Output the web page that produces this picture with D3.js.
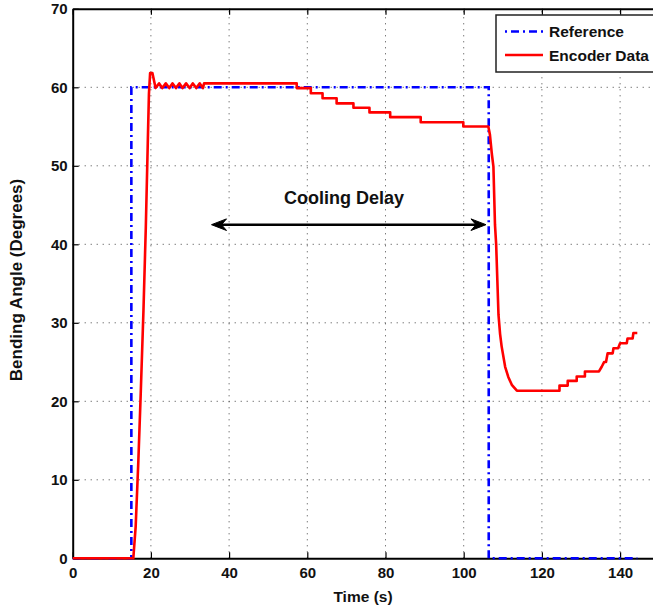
<!DOCTYPE html>
<html>
<head>
<meta charset="utf-8">
<script src="https://cdn.jsdelivr.net/npm/d3@7"></script>
<style>
html,body{margin:0;padding:0;background:#fff;overflow:hidden;}
svg{display:block;font-family:"Liberation Sans",Arial,Helvetica,sans-serif;font-weight:bold;}
</style>
</head>
<body>
<svg id="chart" width="653" height="611"></svg>
<script>
// ---- data ----
const xTicks = [0, 20, 40, 60, 80, 100, 120, 140];
const yTicks = [0, 10, 20, 30, 40, 50, 60, 70];

const refTime = [0, 15.0, 15.0, 106.4, 106.4, 144.4];
const refAngle = [0, 0, 60, 60, 0, 0];

const encTime = [
  0, 15.5, 16.1, 16.8, 17.4, 18.1, 18.7, 19.2, 19.5, 19.8, 20.4, 21.2,
  22.1, 22.9, 23.8, 24.7, 25.5, 26.4, 27.3, 28.1, 29.0, 29.9, 30.7, 31.6, 32.5, 33.3, 33.6,
  57.3, 57.3, 60.9, 60.9, 63.9, 63.9, 67.5, 67.5, 71.8, 71.8, 75.9, 75.9, 81.2, 81.2,
  89.0, 89.0, 99.9, 99.9, 106.3,
  106.7, 107.2, 107.6, 108.0, 108.3, 108.9, 109.3, 109.7, 110.6, 111.4, 112.3, 113.6,
  124.5, 124.5, 126.6, 126.6, 128.9, 128.9, 131.0, 131.0, 134.6,
  135.3, 135.9, 136.4, 136.8, 138.1, 138.3, 139.5, 140.0, 141.7, 141.9, 143.2, 143.4, 144.4
];
const encAngle = [
  0, 0, 4.0, 12.5, 21.0, 31.6, 42.2, 52.9, 59.2, 61.8, 61.8, 59.9,
  60.5, 59.9, 60.5, 59.9, 60.5, 59.9, 60.5, 59.9, 60.5, 59.9, 60.5, 59.9, 60.5, 59.9, 60.5,
  60.5, 59.9, 59.9, 59.25, 59.25, 58.6, 58.6, 57.95, 57.95, 57.4, 57.4, 56.8, 56.8, 56.2,
  56.2, 55.55, 55.55, 55.0, 55.0,
  54.0, 51.5, 49.9, 42.5, 40.0, 31.0, 28.6, 27.0, 24.4, 23.1, 22.1, 21.35,
  21.35, 22.0, 22.0, 22.6, 22.6, 23.15, 23.15, 23.8, 23.8,
  24.4, 25.0, 25.0, 26.1, 26.1, 26.75, 26.75, 27.4, 27.4, 28.0, 28.0, 28.7, 28.7
];

const seriesNames = ["Reference", "Encoder Data"];
const annotationText = "Cooling Delay";
const arrowFrom = [35.5, 42.5];
const arrowTo = [105.7, 42.5];

// ---- layout ----
const svg = d3.select("#chart");
const pLeft = 72.7, pRight = 659.2, pTop = 8.8, pBottom = 558.3;
const x = d3.scaleLinear().domain([0, 150]).range([pLeft, pRight]);
const y = d3.scaleLinear().domain([0, 70]).range([pBottom, pTop]);

// grid
const grid = svg.append("g").attr("stroke", "#444").attr("stroke-width", 1).attr("stroke-dasharray", "1,5");
xTicks.filter(t => t > 0).forEach(t => {
  grid.append("line").attr("x1", x(t)).attr("x2", x(t)).attr("y1", pBottom).attr("y2", pTop);
});
yTicks.filter(t => t > 0 && t < 70).forEach(t => {
  grid.append("line").attr("x1", pLeft).attr("x2", pRight).attr("y1", y(t)).attr("y2", y(t));
});

// axes
const xAxis = d3.axisBottom(x).tickValues(xTicks).tickSize(-6).tickPadding(14).tickSizeOuter(0);
const gx = svg.append("g").attr("transform", `translate(0,${pBottom})`).call(xAxis);
const xTopAxis = d3.axisTop(x).tickValues(xTicks).tickSize(-6).tickFormat("").tickSizeOuter(0);
const gxt = svg.append("g").attr("transform", `translate(0,${pTop})`).call(xTopAxis);
const yAxis = d3.axisLeft(y).tickValues(yTicks).tickSize(-6).tickPadding(10).tickSizeOuter(0);
const gy = svg.append("g").attr("transform", `translate(${pLeft},0)`).call(yAxis);
[gx, gxt, gy].forEach(g => {
  g.select(".domain").attr("stroke", "#000").attr("stroke-width", 2);
  g.selectAll(".tick line").attr("stroke", "#000").attr("stroke-width", 1.2);
  g.selectAll(".tick text").attr("fill", "#111").attr("font-size", 15)
    .attr("font-family", "Liberation Sans, Arial, sans-serif").attr("font-weight", "bold");
});
gx.selectAll(".tick text").attr("dy", "0.71em").attr("y", 9);
gy.selectAll(".tick text").attr("x", -5);

// lines
const refData = refTime.map((t, i) => [t, refAngle[i]]);
const encData = encTime.map((t, i) => [t, encAngle[i]]);
const line = d3.line().x(d => x(d[0])).y(d => y(d[1]));

svg.append("path").datum(refData).attr("d", line)
  .attr("fill", "none").attr("stroke", "#0000ff").attr("stroke-width", 2.6)
  .attr("stroke-dasharray", "8,4,2,4");
svg.append("path").datum(encData).attr("d", line)
  .attr("fill", "none").attr("stroke", "#ff0000").attr("stroke-width", 2.6)
  .attr("stroke-linejoin", "round");

// annotation
svg.append("text").attr("x", 344).attr("y", 204).attr("text-anchor", "middle")
  .attr("font-size", 18).attr("fill", "#111").text(annotationText);
const ay = y(arrowFrom[1]), ax1 = x(arrowFrom[0]), ax2 = x(arrowTo[0]);
svg.append("line").attr("x1", ax1 + 6).attr("x2", ax2 - 6).attr("y1", ay).attr("y2", ay)
  .attr("stroke", "#000").attr("stroke-width", 2.4);
function head(tipX, dir) {
  const L = 15, H = 5.8, N = 10;
  const pts = [[tipX, ay], [tipX + dir * L, ay - H], [tipX + dir * N, ay], [tipX + dir * L, ay + H]];
  svg.append("polygon").attr("points", pts.map(p => p.join(",")).join(" ")).attr("fill", "#000")
    .attr("stroke", "#000").attr("stroke-width", 1).attr("stroke-linejoin", "miter");
}
head(ax1, 1);
head(ax2, -1);

// axis labels
svg.append("text").attr("x", 363).attr("y", 601.5).attr("text-anchor", "middle")
  .attr("font-size", 15.5).attr("fill", "#111").text("Time (s)");
svg.append("text").attr("transform", "translate(22,280) rotate(-90)").attr("text-anchor", "middle")
  .attr("font-size", 17).attr("fill", "#111").text("Bending Angle (Degrees)");

// legend
const lg = svg.append("g");
lg.append("rect").attr("x", 496).attr("y", 15).attr("width", 165).attr("height", 57)
  .attr("fill", "#fff").attr("stroke", "#222").attr("stroke-width", 1.5);
const rows = [31.5, 55];
lg.append("line").attr("x1", 505).attr("x2", 543).attr("y1", rows[0]).attr("y2", rows[0])
  .attr("stroke", "#0000ff").attr("stroke-width", 2.6).attr("stroke-dasharray", "2,4,8,4");
lg.append("line").attr("x1", 505).attr("x2", 543).attr("y1", rows[1]).attr("y2", rows[1])
  .attr("stroke", "#ff0000").attr("stroke-width", 2.6);
seriesNames.forEach((n, i) => {
  lg.append("text").attr("x", 549).attr("y", rows[i] + 5.5).attr("font-size", 15.5)
    .attr("fill", "#111").text(n);
});
</script>
</body>
</html>
